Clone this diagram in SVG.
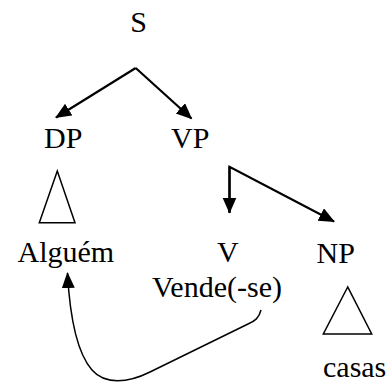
<svg xmlns="http://www.w3.org/2000/svg" width="389" height="383" viewBox="0 0 389 383">
  <style>
    .lbl { font-family: "Liberation Serif", "Times New Roman", serif; font-size: 30px; fill: #000; }
    .branch { fill: none; stroke: #000; stroke-width: 2.2; stroke-linecap: butt; }
    .tri { fill: none; stroke: #000; stroke-width: 1.5; stroke-linejoin: miter; }
    .move { fill: none; stroke: #000; stroke-width: 1.5; }
  </style>
  <defs>
    <marker id="head" markerUnits="userSpaceOnUse" markerWidth="18" markerHeight="16" refX="15" refY="7" orient="auto">
      <path d="M0,0 L16,7 L0,14 z" fill="#000"/>
    </marker>
    <marker id="headThin" markerUnits="userSpaceOnUse" markerWidth="18" markerHeight="16" refX="15" refY="6.5" orient="auto">
      <path d="M0,0 L16,6.5 L0,13 z" fill="#000"/>
    </marker>
  </defs>

  <g id="node-S"><text class="lbl" x="138.5" y="32" text-anchor="middle">S</text></g>
  <g id="node-DP"><text class="lbl" x="44" y="147.5">DP</text></g>
  <g id="node-VP"><text class="lbl" x="171" y="147.5">VP</text></g>
  <g id="node-DP-leaf">
    <polygon class="tri" points="57.3,171 39.3,222.8 75,222.8"/>
    <text class="lbl" x="17.5" y="262">Alguém</text>
  </g>
  <g id="node-V">
    <text class="lbl" x="217" y="262">V</text>
    <text class="lbl" x="152" y="297">Vende(-se)</text>
  </g>
  <g id="node-NP">
    <text class="lbl" x="316.5" y="263">NP</text>
    <polygon class="tri" points="347.7,287 323.3,334 371.7,334"/>
    <text class="lbl" x="323" y="377">casas</text>
  </g>

  <g id="connectors">
    <path class="branch" d="M135.7,68 L56,117.5" marker-end="url(#head)"/>
    <path class="branch" d="M135.7,68 L191.5,118.5" marker-end="url(#head)"/>
    <path class="branch" d="M229.5,213 L229.5,166.7 L334,221.5" marker-end="url(#head)"/>
    <path class="branch" d="M229.5,166.7 L229.5,212.5" marker-end="url(#head)"/>
    <path class="move" d="M261,310 C259,318 255,321 248,324 L150,372 C128,383 105,385 92,370 C78,354 70,320 67.5,273" marker-end="url(#headThin)"/>
  </g>
</svg>
